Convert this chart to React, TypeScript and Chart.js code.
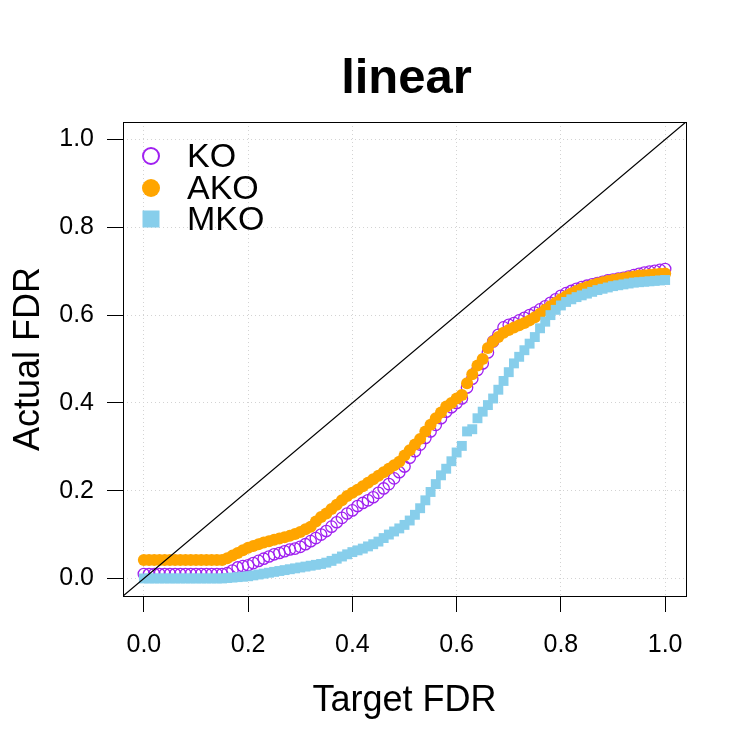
import { useEffect, useRef } from "react";
import { Chart, registerables } from "chart.js";

Chart.register(...registerables);

// Target FDR levels (x) and the observed FDR of each knockoff method (y)
const TARGET_FDR = [
  0.0, 0.01, 0.02, 0.03, 0.04, 0.05, 0.06, 0.07, 0.08, 0.09,
  0.1, 0.11, 0.12, 0.13, 0.14, 0.15, 0.16, 0.17, 0.18, 0.19,
  0.2, 0.21, 0.22, 0.23, 0.24, 0.25, 0.26, 0.27, 0.28, 0.29,
  0.3, 0.31, 0.32, 0.33, 0.34, 0.35, 0.36, 0.37, 0.38, 0.39,
  0.4, 0.41, 0.42, 0.43, 0.44, 0.45, 0.46, 0.47, 0.48, 0.49,
  0.5, 0.51, 0.52, 0.53, 0.54, 0.55, 0.56, 0.57, 0.58, 0.59,
  0.6, 0.61, 0.62, 0.63, 0.64, 0.65, 0.66, 0.67, 0.68, 0.69,
  0.7, 0.71, 0.72, 0.73, 0.74, 0.75, 0.76, 0.77, 0.78, 0.79,
  0.8, 0.81, 0.82, 0.83, 0.84, 0.85, 0.86, 0.87, 0.88, 0.89,
  0.9, 0.91, 0.92, 0.93, 0.94, 0.95, 0.96, 0.97, 0.98, 0.99,
  1.0,
];

const KO = [
  0.01, 0.01, 0.01, 0.01, 0.01, 0.01, 0.01, 0.01, 0.01, 0.01,
  0.01, 0.01, 0.01, 0.01, 0.01, 0.01, 0.012, 0.018, 0.025, 0.028,
  0.03, 0.035, 0.04, 0.045, 0.05, 0.055, 0.058, 0.062, 0.066, 0.068,
  0.072, 0.078, 0.085, 0.092, 0.1, 0.108, 0.118, 0.128, 0.138, 0.148,
  0.155, 0.165, 0.172, 0.178, 0.185, 0.195, 0.205, 0.215, 0.228, 0.242,
  0.255, 0.275, 0.29, 0.305, 0.32, 0.335, 0.35, 0.365, 0.38, 0.39,
  0.4, 0.41, 0.435, 0.455, 0.475, 0.49, 0.515, 0.54, 0.555, 0.572,
  0.578, 0.582, 0.588, 0.594, 0.6, 0.606, 0.613, 0.62, 0.628, 0.636,
  0.644, 0.65, 0.655, 0.66, 0.664, 0.667, 0.67, 0.673, 0.676, 0.679,
  0.681, 0.683, 0.685, 0.688, 0.691, 0.694, 0.697, 0.699, 0.701, 0.703,
  0.705,
];

const AKO = [
  0.042, 0.042, 0.042, 0.042, 0.042, 0.042, 0.042, 0.042, 0.042, 0.042,
  0.042, 0.042, 0.042, 0.042, 0.042, 0.042, 0.046, 0.052, 0.058, 0.064,
  0.07, 0.074, 0.078, 0.082, 0.085, 0.088, 0.091, 0.094, 0.097, 0.101,
  0.106, 0.112, 0.118, 0.13, 0.14, 0.148, 0.158, 0.168, 0.178, 0.188,
  0.195, 0.202, 0.21, 0.218, 0.226, 0.234, 0.242, 0.25, 0.258, 0.266,
  0.28, 0.292, 0.305, 0.318, 0.335, 0.35, 0.365, 0.378, 0.392, 0.4,
  0.41, 0.418, 0.445, 0.465, 0.485, 0.5, 0.525, 0.54, 0.55, 0.56,
  0.566, 0.572, 0.577, 0.582, 0.588, 0.595, 0.603, 0.612, 0.62, 0.628,
  0.636, 0.643, 0.649, 0.655, 0.66, 0.664, 0.668, 0.672, 0.675, 0.678,
  0.68, 0.682, 0.684, 0.686, 0.688, 0.69, 0.691, 0.692, 0.693, 0.694,
  0.695,
];

const MKO = [
  0.0, 0.0, 0.0, 0.0, 0.0, 0.0, 0.0, 0.0, 0.0, 0.0,
  0.0, 0.0, 0.0, 0.0, 0.0, 0.0, 0.001, 0.002, 0.003, 0.004,
  0.005, 0.007, 0.009, 0.011, 0.013, 0.015, 0.017, 0.019, 0.021, 0.023,
  0.025, 0.027, 0.029, 0.031, 0.033, 0.036, 0.04, 0.045, 0.05, 0.055,
  0.06, 0.064, 0.068, 0.073, 0.078, 0.084, 0.092, 0.1, 0.107, 0.114,
  0.122, 0.132, 0.145, 0.16, 0.178, 0.197, 0.215, 0.235, 0.25, 0.267,
  0.287, 0.302, 0.335, 0.34, 0.365, 0.38, 0.395, 0.41, 0.43, 0.45,
  0.47, 0.49, 0.505, 0.52, 0.535, 0.55, 0.57, 0.585, 0.6, 0.612,
  0.622, 0.63, 0.636, 0.641, 0.645, 0.649, 0.653, 0.657, 0.66, 0.663,
  0.666, 0.668, 0.67, 0.672, 0.674, 0.675, 0.676, 0.677, 0.678, 0.679,
  0.68,
];

const TICK_VALUES = [0, 0.2, 0.4, 0.6, 0.8, 1.0];
const AXIS_MIN = -0.04;
const AXIS_MAX = 1.04;

const TITLE = "linear";
const X_LABEL = "Target FDR";
const Y_LABEL = "Actual FDR";
const SERIES_NAMES = ["KO", "AKO", "MKO"];

const PURPLE = "#A020F0";
const ORANGE = "#FFA500";
const SKYBLUE = "#87CEEB";
const GRID = "#D3D3D3";
const FONT = "'Liberation Sans', Arial, Helvetica, sans-serif";

const toPoints = (ys: number[]) => TARGET_FDR.map((x, i) => ({ x, y: ys[i] }));

// Title, axis titles, legend and the frame around the plotting region
const decorations = {
  id: "decorations",
  afterDraw(chart: Chart) {
    const { ctx, chartArea: a } = chart;
    ctx.save();

    ctx.strokeStyle = "#000";
    ctx.lineWidth = 1;
    ctx.strokeRect(a.left + 0.5, a.top + 0.5, a.right - a.left, a.bottom - a.top);

    const cx = (a.left + a.right) / 2;
    const cy = (a.top + a.bottom) / 2;
    ctx.fillStyle = "#000";
    ctx.textAlign = "center";
    ctx.textBaseline = "alphabetic";

    ctx.font = `bold 49px ${FONT}`;
    ctx.fillText(TITLE, cx + 2, 93);

    ctx.font = `36px ${FONT}`;
    ctx.fillText(X_LABEL, cx, 711);

    ctx.save();
    ctx.translate(39, cy);
    ctx.rotate(-Math.PI / 2);
    ctx.fillText(Y_LABEL, 0, 0);
    ctx.restore();

    // legend
    const mx = a.left + 28;
    const rows = [156, 188, 219];
    ctx.lineWidth = 2;
    ctx.strokeStyle = PURPLE;
    ctx.beginPath();
    ctx.arc(mx, rows[0], 8, 0, Math.PI * 2);
    ctx.stroke();
    ctx.fillStyle = ORANGE;
    ctx.beginPath();
    ctx.arc(mx, rows[1], 9, 0, Math.PI * 2);
    ctx.fill();
    ctx.fillStyle = SKYBLUE;
    ctx.fillRect(mx - 8.5, rows[2] - 8.5, 17, 17);

    ctx.fillStyle = "#000";
    ctx.textAlign = "left";
    ctx.font = `34px ${FONT}`;
    SERIES_NAMES.forEach((name, i) => {
      ctx.fillText(name, a.left + 64, rows[i] + 11);
    });

    ctx.restore();
  },
};

const axisCommon = (size: "width" | "height", px: number, pad: number) => ({
  type: "linear" as const,
  min: AXIS_MIN,
  max: AXIS_MAX,
  afterBuildTicks: (scale: any) => {
    scale.ticks = TICK_VALUES.map((value) => ({ value }));
  },
  afterFit: (scale: any) => {
    scale[size] = px;
  },
  grid: {
    color: GRID,
    lineWidth: 1,
    drawTicks: true,
    tickLength: 16,
    tickColor: "#000",
    tickWidth: 1,
    tickBorderDash: [],
  },
  border: { display: false, dash: [1, 3] },
  ticks: {
    color: "#000",
    padding: pad,
    font: { family: FONT, size: 25 },
    callback: (v: any) => Number(v).toFixed(1),
  },
});

export default function App() {
  const canvasRef = useRef<HTMLCanvasElement | null>(null);

  useEffect(() => {
    const canvas = canvasRef.current;
    if (!canvas) return;
    const x = axisCommon("height", 154, 18);
    const y = axisCommon("width", 123, 13);

    const chart = new Chart(canvas, {
      type: "scatter",
      data: {
        datasets: [
          {
            label: "identity",
            data: [
              { x: AXIS_MIN, y: AXIS_MIN },
              { x: AXIS_MAX, y: AXIS_MAX },
            ],
            showLine: true,
            borderColor: "#000",
            borderWidth: 1.3,
            pointRadius: 0,
            order: -1,
          },
          {
            label: SERIES_NAMES[0],
            data: toPoints(KO),
            pointStyle: "circle",
            pointRadius: 5.7,
            borderWidth: 1.3,
            borderColor: PURPLE,
            backgroundColor: "rgba(0,0,0,0)",
            order: 3,
          },
          {
            label: SERIES_NAMES[1],
            data: toPoints(AKO),
            pointStyle: "circle",
            pointRadius: 6,
            borderWidth: 0,
            backgroundColor: ORANGE,
            order: 2,
          },
          {
            label: SERIES_NAMES[2],
            data: toPoints(MKO),
            pointStyle: "rect",
            pointRadius: 7,
            borderWidth: 0,
            backgroundColor: SKYBLUE,
            order: 1,
          },
        ],
      },
      options: {
        responsive: false,
        animation: false,
        events: [],
        layout: { padding: { top: 122, right: 64, left: 0, bottom: 0 } },
        plugins: { legend: { display: false }, tooltip: { enabled: false } },
        scales: { x, y } as any,
      },
      plugins: [decorations],
    });
    return () => chart.destroy();
  }, []);

  return (
    <div style={{ position: "fixed", left: 0, top: 0, width: 750, height: 750, background: "#fff" }}>
      <canvas ref={canvasRef} width={750} height={750} />
    </div>
  );
}
